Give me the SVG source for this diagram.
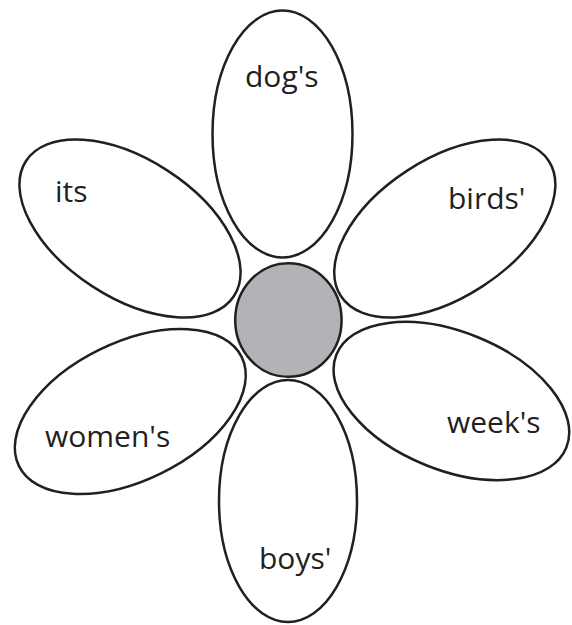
<svg xmlns="http://www.w3.org/2000/svg" width="572" height="625" viewBox="0 0 572 625">
<style>
.petal{fill:#ffffff;stroke:#231f20;stroke-width:2.5}
.core{fill:#b1b3b6;stroke:#231f20;stroke-width:2.5}
.lbl{font-family:"Open Sans","Liberation Sans",sans-serif;font-size:30px;fill:#231f20}
</style>
<rect width="572" height="625" fill="#ffffff"/>
<g id="petal-dogs">
<ellipse class="petal" cx="282.5" cy="134" rx="70" ry="123.5"/>
<text class="lbl" x="245" y="87">dog's</text>
</g>
<g id="petal-its">
<ellipse class="petal" cx="130" cy="228.5" rx="124" ry="69" transform="rotate(33 130 228.5)"/>
<text class="lbl" x="55" y="202">its</text>
</g>
<g id="petal-birds">
<ellipse class="petal" cx="444.8" cy="228.5" rx="124" ry="69" transform="rotate(-33 444.8 228.5)"/>
<text class="lbl" x="448" y="209">birds'</text>
</g>
<g id="petal-womens">
<ellipse class="petal" cx="130.3" cy="411.5" rx="124" ry="69" transform="rotate(-26 130.3 411.5)"/>
<text class="lbl" x="45" y="447">women's</text>
</g>
<g id="petal-weeks">
<ellipse class="petal" cx="451.4" cy="401" rx="124" ry="69" transform="rotate(22 451.4 401)"/>
<text class="lbl" x="447" y="433">week's</text>
</g>
<g id="petal-boys">
<ellipse class="petal" cx="288" cy="501" rx="69" ry="121"/>
<text class="lbl" x="259" y="569">boys'</text>
</g>
<g id="center">
<ellipse class="core" cx="288.4" cy="320" rx="53.2" ry="56.8"/>
</g>
<g id="connectors"/>
</svg>
